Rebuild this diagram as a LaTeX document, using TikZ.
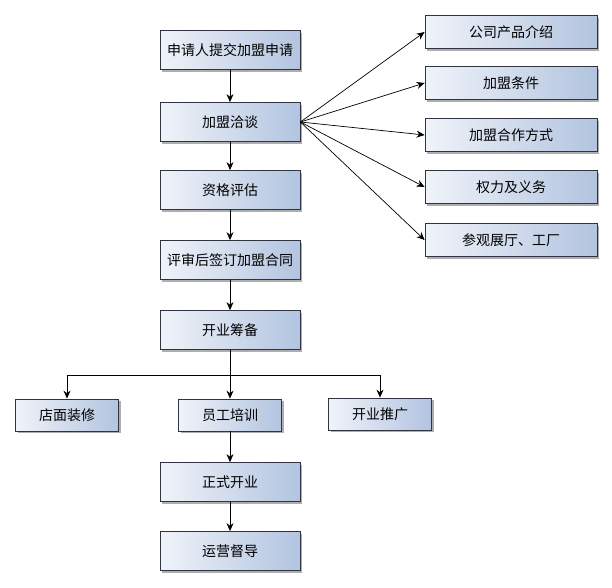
\documentclass[tikz,border=0pt]{standalone}
\usepackage{fontspec}
\setmainfont{Noto Sans CJK SC}
\usepackage{tikz}
\usetikzlibrary{arrows.meta,shadows,calc}

\definecolor{boxleft}{HTML}{F0F3F9}
\definecolor{boxright}{HTML}{B2C4E0}
\definecolor{boxline}{HTML}{2E3440}

\tikzset{
  box/.style={draw=boxline, line width=0.8pt, left color=boxleft, right color=boxright,
    drop shadow={shadow xshift=2pt, shadow yshift=-2pt, opacity=0.45, fill=black!70},
    inner sep=2pt, font=\fontsize{14}{16}\selectfont},
  mainbox/.style={box, minimum width=140pt, minimum height=39pt},
  sidebox/.style={box, minimum width=172pt, minimum height=33pt},
  rowbox/.style={box, minimum width=103pt, minimum height=32pt},
  arr/.style={-{Stealth[length=8pt,width=7pt]}, line width=0.7pt, black}
}

\begin{document}
\begin{tikzpicture}[x=1pt,y=-1pt]
    \useasboundingbox (0,0) rectangle (612,587);

    % main column
    \node[mainbox] (apply) at (230,50) {申请人提交加盟申请};
    \node[mainbox] (talk) at (230,122) {加盟洽谈};
    \node[mainbox] (assess) at (230,190) {资格评估};
    \node[mainbox] (sign) at (230,260) {评审后签订加盟合同};
    \node[mainbox] (prepare) at (230,330) {开业筹备};

    % side column
    \node[sidebox] (intro) at (511,32) {公司产品介绍};
    \node[sidebox] (cond) at (511,83) {加盟条件};
    \node[sidebox] (mode) at (511,135) {加盟合作方式};
    \node[sidebox] (rights) at (511,187) {权力及义务};
    \node[sidebox] (visit) at (511,240) {参观展厅、工厂};

    % branch row
    \node[rowbox] (decor) at (67,415) {店面装修};
    \node[rowbox] (train) at (230,415) {员工培训};
    \node[rowbox] (promote) at (380,414) {开业推广};

    \node[mainbox] (open) at (230,482) {正式开业};
    \node[mainbox] (supervise) at (230,551) {运营督导};

    \coordinate (fork) at (230,375);

    \draw[arr] (apply) -- (talk);
    \draw[arr] (talk) -- (assess);
    \draw[arr] (assess) -- (sign);
    \draw[arr] (sign) -- (prepare);

    \foreach \n in {intro,cond,mode,rights,visit}
        \draw[arr] (talk.east) -- (\n.west);

    \draw[arr] (prepare) -- (train);
    \draw[arr] (fork) -| (decor);
    \draw[arr] (fork) -| (promote);

    \draw[arr] (train) -- (open);
    \draw[arr] (open) -- (supervise);
\end{tikzpicture}
\end{document}
